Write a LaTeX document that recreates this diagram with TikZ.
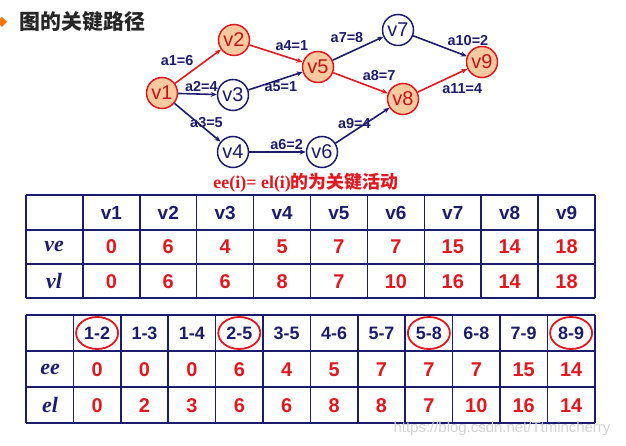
\documentclass[tikz,border=0pt]{standalone}
\usepackage{fontspec}
\setmainfont{Liberation Sans}
\newfontfamily\cjk{Noto Sans CJK SC}
\newfontfamily\tnr{Liberation Serif}
\usetikzlibrary{arrows.meta}

\definecolor{navy}{RGB}{28,28,110}
\definecolor{crit}{RGB}{228,22,30}
\definecolor{peach}{RGB}{250,201,158}

\tikzset{
  vtx/.style={circle, draw=navy, line width=1.5bp, fill=white, minimum size=31bp, inner sep=0pt, text=navy, font=\fontsize{20}{20}\selectfont},
  cvtx/.style={vtx, draw=crit, fill=peach, text=crit!85!black},
  act/.style={draw=navy, line width=1.6bp, -{Stealth[length=6bp,width=5bp]}},
  cact/.style={act, draw=crit},
  lbl/.style={text=navy, font=\bfseries\fontsize{14.5}{14.5}\selectfont, inner sep=1.5bp},
  grid/.style={draw=navy, line width=1.5bp},
  hd/.style={text=navy, font=\bfseries\fontsize{19}{19}\selectfont},
  val/.style={text=crit, font=\bfseries\fontsize{20}{20}\selectfont},
  rowhd/.style={text=navy, font=\tnr\bfseries\itshape\fontsize{22}{22}\selectfont},
  ring/.style={draw=crit, line width=1.8bp}
}

\begin{document}
\begin{tikzpicture}[x=1bp, y=-1bp]
\useasboundingbox (0,0) rectangle (626,446);

% title
\fill[orange!90!red] (-3,22) -- (2,17) -- (7,22) -- (2,27) -- cycle;
\node[anchor=west, text=black!85, font=\cjk\bfseries\fontsize{21}{21}\selectfont] (title) at (16,22) {图的关键路径};

% events
\node[cvtx] (v1) at (162,93) {v1};
\node[cvtx] (v2) at (234,40) {v2};
\node[vtx]  (v3) at (233,95) {v3};
\node[vtx]  (v4) at (233,152) {v4};
\node[cvtx] (v5) at (318,67) {v5};
\node[vtx]  (v6) at (322,152) {v6};
\node[vtx]  (v7) at (398,30) {v7};
\node[cvtx] (v8) at (403,99) {v8};
\node[cvtx] (v9) at (482,62) {v9};

% activities
\draw[cact] (v1) -- node[lbl, pos=0.45, above left] (a1) {a1=6} (v2);
\draw[act]  (v1) -- node[lbl, pos=0.6, above] (a2) {a2=4} (v3);
\draw[act]  (v1) -- node[lbl, pos=0.5, xshift=9bp] (a3) {a3=5} (v4);
\draw[cact] (v2) -- node[lbl, pos=0.45, above right] (a4) {a4=1} (v5);
\draw[act]  (v3) -- node[lbl, pos=0.6, below] (a5) {a5=1} (v5);
\draw[act]  (v4) -- node[lbl, pos=0.66, above] (a6) {a6=2} (v6);
\draw[act]  (v5) -- node[lbl, pos=0.65, above left] (a7) {a7=8} (v7);
\draw[cact] (v5) -- node[lbl, pos=0.5, above right] (a8) {a8=7} (v8);
\draw[act]  (v6) -- node[lbl, pos=0.35, above] (a9) {a9=4} (v8);
\draw[act]  (v7) -- node[lbl, pos=0.6, above right] (a10) {a10=2} (v9);
\draw[cact] (v8) -- node[lbl, pos=0.45, below right] (a11) {a11=4} (v9);

\node[text=crit, font=\bfseries\fontsize{18}{18}\selectfont] (rule) at (306,183) {{\tnr ee(i)= el(i)}{\cjk 的为关键活动}};

% event table
\foreach \i in {0,...,10} \draw[grid] ({26+56.9*\i},195) -- ({26+56.9*\i},298);
\foreach \y in {195,230,264,298} \draw[grid] (26,\y) -- (595,\y);
\foreach \c in {1,...,9} \node[hd] (hv\c) at ({26+56.9*(\c+0.5)},213) {v\c};
\node[rowhd] (tve) at (54,246) {ve};
\node[rowhd] (tvl) at (54,281) {vl};
\foreach \n [count=\c] in {0,6,4,5,7,7,15,14,18} \node[val] (ve\c) at ({26+56.9*(\c+0.5)},247) {\n};
\foreach \n [count=\c] in {0,6,6,8,7,10,16,14,18} \node[val] (vl\c) at ({26+56.9*(\c+0.5)},282) {\n};

% activity table
\foreach \i in {0,...,12} \draw[grid] ({26+47.4*\i},315) -- ({26+47.4*\i},423);
\foreach \y in {315,351,387,423} \draw[grid] (26,\y) -- (595,\y);
\foreach \h [count=\c] in {1-2,1-3,1-4,2-5,3-5,4-6,5-7,5-8,6-8,7-9,8-9}
  \node[hd, font=\bfseries\fontsize{18}{18}\selectfont] (ha\c) at ({26+47.4*(\c+0.5)},333) {\h};
\node[rowhd] (tee) at (50,369) {ee};
\node[rowhd] (tel) at (50,405) {el};
\foreach \n [count=\c] in {0,0,0,6,4,5,7,7,7,15,14} \node[val] (ee\c) at ({26+47.4*(\c+0.5)},370) {\n};
\foreach \n [count=\c] in {0,2,3,6,6,8,8,7,10,16,14} \node[val] (el\c) at ({26+47.4*(\c+0.5)},406) {\n};
\foreach \c in {1,4,8,11} \draw[ring] (ha\c.center) ellipse [x radius=21bp, y radius=16bp];

\node[text=black!18, font=\fontsize{15}{15}\selectfont] (wm) at (502,429) {https://blog.csdn.net/Ttmincherry};
\end{tikzpicture}
\end{document}
